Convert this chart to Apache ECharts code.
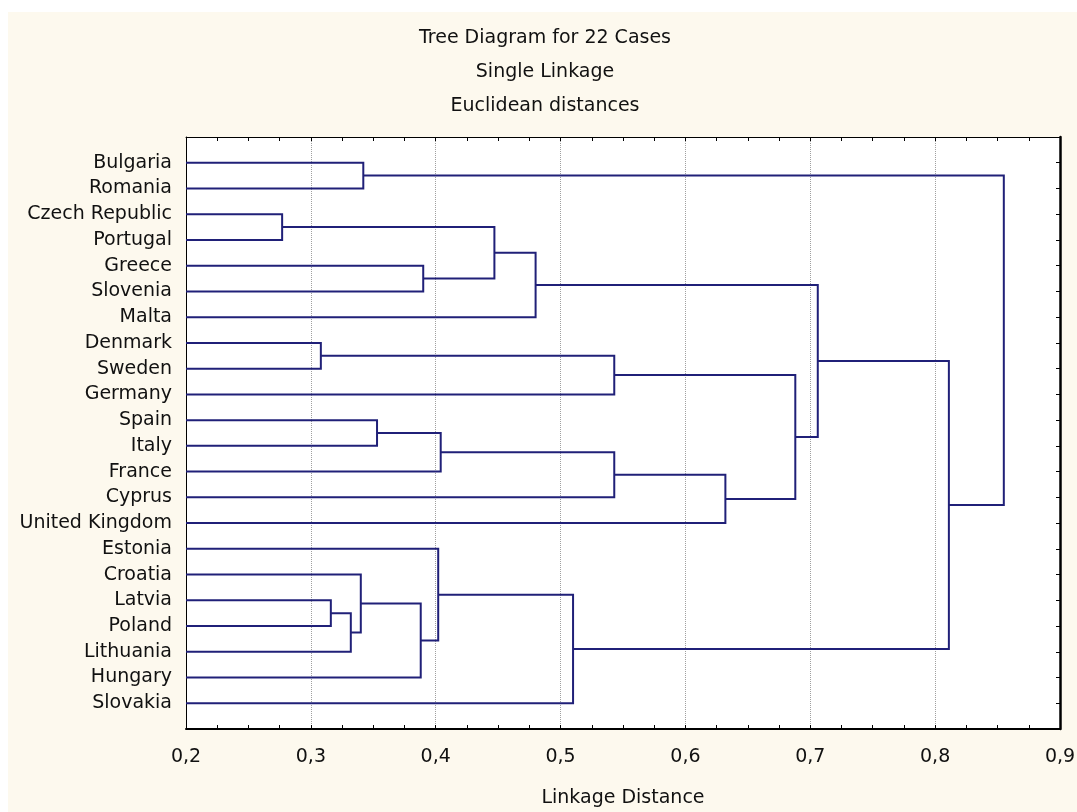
<!DOCTYPE html>
<html>
<head>
<meta charset="utf-8">
<title>Tree Diagram for 22 Cases</title>
<style>
  html, body { margin: 0; padding: 0; background: #fff; }
  #chart { width: 1077px; height: 812px; }
</style>
<script src="https://cdn.jsdelivr.net/npm/echarts@6/dist/echarts.min.js"></script>
</head>
<body>
<div id="chart"></div>
<script>
  // cases, top to bottom as drawn
  var cases = [
    'Bulgaria', 'Romania', 'Czech Republic', 'Portugal', 'Greece', 'Slovenia', 'Malta',
    'Denmark', 'Sweden', 'Germany', 'Spain', 'Italy', 'France', 'Cyprus', 'United Kingdom',
    'Estonia', 'Croatia', 'Latvia', 'Poland', 'Lithuania', 'Hungary', 'Slovakia'
  ];
  // merges [a, b, linkage distance]; ids 0-21 are cases, 22+ are earlier merges in order
  var merges = [
    [2, 3, 0.277],    // 22 Czech Republic + Portugal
    [7, 8, 0.308],    // 23 Denmark + Sweden
    [17, 18, 0.316],  // 24 Latvia + Poland
    [24, 19, 0.332],  // 25 + Lithuania
    [16, 25, 0.340],  // 26 Croatia +
    [0, 1, 0.342],    // 27 Bulgaria + Romania
    [10, 11, 0.353],  // 28 Spain + Italy
    [26, 20, 0.388],  // 29 + Hungary
    [4, 5, 0.390],    // 30 Greece + Slovenia
    [15, 29, 0.402],  // 31 Estonia +
    [28, 12, 0.404],  // 32 + France
    [22, 30, 0.447],  // 33
    [33, 6, 0.480],   // 34 + Malta
    [31, 21, 0.510],  // 35 + Slovakia
    [23, 9, 0.543],   // 36 + Germany
    [32, 13, 0.543],  // 37 + Cyprus
    [37, 14, 0.632],  // 38 + United Kingdom
    [36, 38, 0.688],  // 39
    [34, 39, 0.706],  // 40
    [40, 35, 0.811],  // 41
    [27, 41, 0.855]   // 42
  ];
  // linkage distance axis
  var distTicks = [0.2, 0.3, 0.4, 0.5, 0.6, 0.7, 0.8, 0.9];
  var titles = ['Tree Diagram for 22 Cases', 'Single Linkage', 'Euclidean distances'];

  var lineColor = '#202078';
  var textColor = '#111';
  var font = 'DejaVu Sans';

  // build links: [childA height, yA, merge height, yB, childB height]
  var nodeY = cases.map(function (c, i) { return i + 1; });
  var nodeH = cases.map(function () { return 0; });
  var links = merges.map(function (m) {
    var ya = nodeY[m[0]], yb = nodeY[m[1]];
    nodeY.push((ya + yb) / 2);
    nodeH.push(m[2]);
    return [nodeH[m[0]], ya, m[2], yb, nodeH[m[1]]];
  });

  function renderLink(params, api) {
    var pts = [
      api.coord([api.value(0), api.value(1)]),
      api.coord([api.value(2), api.value(1)]),
      api.coord([api.value(2), api.value(3)]),
      api.coord([api.value(4), api.value(3)])
    ];
    return {
      type: 'polyline',
      shape: {points: pts},
      style: {stroke: lineColor, lineWidth: 2, fill: null}
    };
  }

  var xMin = distTicks[0], xMax = distTicks[distTicks.length - 1];
  var labelStyle = {fontFamily: font, fontSize: 19, color: textColor};

  var chart = echarts.init(document.getElementById('chart'));
  chart.setOption({
    backgroundColor: '#fdf9ee',
    animation: false,
    graphic: [
      {type: 'rect', shape: {x: 0, y: 0, width: 1077, height: 12}, style: {fill: '#fff'}, silent: true},
      {type: 'rect', shape: {x: 0, y: 0, width: 8, height: 812}, style: {fill: '#fff'}, silent: true}
    ],
    title: titles.map(function (t, i) {
      return {
        text: t,
        left: 545,
        top: 29 + i * 34,
        textAlign: 'center',
        padding: 0,
        textStyle: {fontFamily: font, fontSize: 19, fontWeight: 'normal', color: textColor}
      };
    }),
    grid: {
      left: 186, right: 17, top: 137, bottom: 83,
      outerBoundsMode: 'none',
      containLabel: false,
      show: true, backgroundColor: '#fff', borderWidth: 0
    },
    xAxis: [{
      type: 'value',
      position: 'bottom',
      min: xMin, max: xMax, interval: 0.1,
      axisLine: {onZero: false, lineStyle: {color: '#000', width: 2}},
      axisTick: {inside: true, length: 4, lineStyle: {color: '#000'}},
      minorTick: {show: true, splitNumber: 4, length: 4, lineStyle: {color: '#000'}},
      axisLabel: Object.assign({
        margin: 19,
        formatter: function (v) { return v.toFixed(1).replace('.', ','); }
      }, labelStyle),
      splitLine: {show: true, lineStyle: {type: 'dotted', color: '#a0a0a0', width: 1}},
      name: 'Linkage Distance',
      nameLocation: 'middle',
      nameGap: 60,
      nameTextStyle: labelStyle
    }, {
      type: 'value',
      position: 'top',
      min: xMin, max: xMax, interval: 0.1,
      axisLine: {onZero: false, lineStyle: {color: '#000', width: 1}},
      axisTick: {inside: true, length: 4, lineStyle: {color: '#000'}},
      minorTick: {show: true, splitNumber: 4, length: 4, lineStyle: {color: '#000'}},
      axisLabel: {show: false},
      splitLine: {show: false}
    }],
    yAxis: [{
      type: 'value',
      position: 'left',
      min: 0, max: cases.length + 1, interval: 1,
      inverse: true,
      axisLine: {show: true, onZero: false, lineStyle: {color: '#000', width: 1}},
      axisTick: {show: false},
      splitLine: {show: false},
      axisLabel: Object.assign({
        margin: 14,
        formatter: function (v) { return cases[v - 1] || ''; }
      }, labelStyle)
    }, {
      type: 'value',
      position: 'right',
      min: 0, max: cases.length + 1, interval: 1,
      inverse: true,
      axisLine: {show: true, onZero: false, lineStyle: {color: '#000', width: 2.5}},
      axisTick: {inside: true, length: 4, lineStyle: {color: '#000'}},
      axisLabel: {show: false},
      splitLine: {show: false}
    }],
    series: [{
      type: 'custom',
      clip: true,
      renderItem: renderLink,
      encode: {x: [0, 2, 4], y: [1, 3]},
      data: links
    }]
  });
</script>
</body>
</html>
